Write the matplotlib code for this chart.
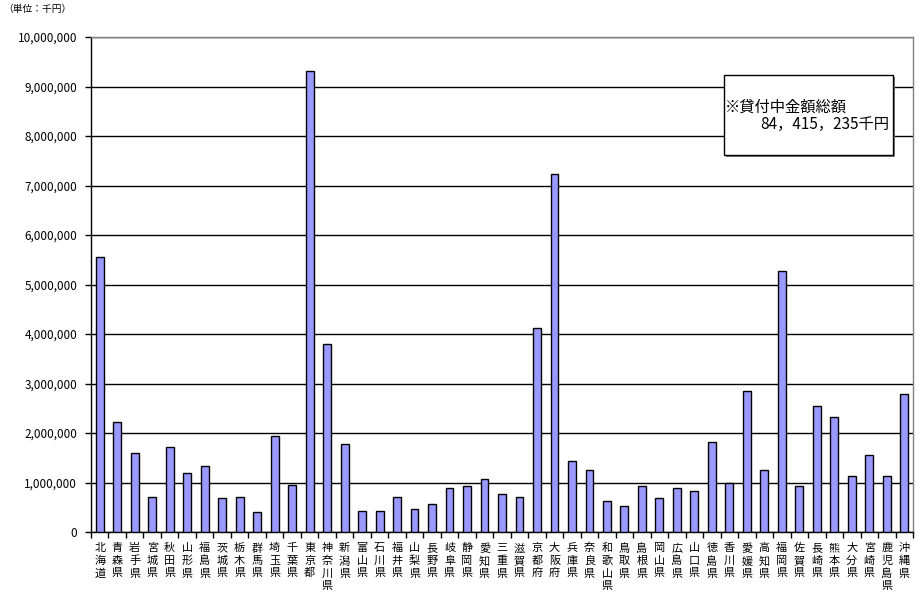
import matplotlib
matplotlib.use('Agg')
import matplotlib.pyplot as plt
import matplotlib.ticker as ticker
from matplotlib.patches import Rectangle
import numpy as np

plt.rcParams['font.family'] = ['Noto Sans CJK JP', 'DejaVu Sans']

# prefectures and outstanding loan amounts (thousand yen)
prefectures = ['北海道', '青森県', '岩手県', '宮城県', '秋田県', '山形県', '福島県',
               '茨城県', '栃木県', '群馬県', '埼玉県', '千葉県', '東京都', '神奈川県',
               '新潟県', '富山県', '石川県', '福井県', '山梨県', '長野県', '岐阜県',
               '静岡県', '愛知県', '三重県', '滋賀県', '京都府', '大阪府', '兵庫県',
               '奈良県', '和歌山県', '鳥取県', '島根県', '岡山県', '広島県', '山口県',
               '徳島県', '香川県', '愛媛県', '高知県', '福岡県', '佐賀県', '長崎県',
               '熊本県', '大分県', '宮崎県', '鹿児島県', '沖縄県']
amounts = [5550000, 2215000, 1590000, 700000, 1710000, 1186000, 1327000,
           680000, 700000, 400000, 1930000, 956000, 9310000, 3790000,
           1770000, 420000, 420000, 700000, 460000, 560000, 880000,
           920000, 1065000, 760000, 700000, 4115000, 7230000, 1430000,
           1246000, 620000, 520000, 920000, 680000, 880000, 820000,
           1810000, 980000, 2840000, 1246000, 5270000, 920000, 2540000,
           2320000, 1125000, 1550000, 1125000, 2780000]
unit_label = '（単位：千円）'
note_title = '※貸付中金額総額'
note_total = '84，415，235千円'

W, H = 918, 592
fig = plt.figure(figsize=(W / 100, H / 100), dpi=100)
left, right, top, bottom = 91, 913, 37, 532
ax = fig.add_axes([left / W, 1 - bottom / H, (right - left) / W, (bottom - top) / H])

x = np.arange(len(prefectures))
ax.bar(x, amounts, width=0.45, color='#9999FF', edgecolor='black', linewidth=1, zorder=3)

ax.set_xlim(-0.5, len(prefectures) - 0.5)
ax.set_ylim(0, 10000000)
ax.yaxis.set_major_locator(ticker.MultipleLocator(1000000))
ax.yaxis.set_major_formatter(ticker.FuncFormatter(lambda v, p: '{:,.0f}'.format(v)))
ax.grid(axis='y', color='black', linewidth=1, zorder=1)

ax.set_xticks(x)
ax.set_xticklabels(['\n'.join(p) for p in prefectures], fontsize=8, linespacing=1.3,
                   va='top')
ax.tick_params(axis='x', which='major', length=0, pad=8)
ax.set_xticks(np.arange(-0.5, len(prefectures), 1.0), minor=True)
ax.tick_params(axis='x', which='minor', length=4, direction='out', width=1)
ax.tick_params(axis='y', length=4, direction='out', width=1, labelsize=8.5, pad=6)

for s in ['left', 'bottom']:
    ax.spines[s].set_color('black')
    ax.spines[s].set_linewidth(1)
for s in ['top', 'right']:
    ax.spines[s].set_color('#808080')
    ax.spines[s].set_linewidth(1)

fig.text(3 / W, 1 - 9 / H, unit_label, fontsize=7, ha='left', va='center')

# note box
bx0, by0, bx1, by1 = 724, 75, 893, 155
fig.patches.append(Rectangle((bx0 / W + 2 / W, 1 - by1 / H - 2 / H), (bx1 - bx0) / W, (by1 - by0) / H,
                             transform=fig.transFigure, facecolor='#808080', edgecolor='none', zorder=4))
fig.patches.append(Rectangle((bx0 / W, 1 - by1 / H), (bx1 - bx0) / W, (by1 - by0) / H,
                             transform=fig.transFigure, facecolor='white', edgecolor='black',
                             linewidth=1, zorder=5))
fig.text(725 / W, 1 - 107 / H, note_title, fontsize=11, ha='left', va='center', zorder=6)
fig.text(889 / W, 1 - 124 / H, note_total, fontsize=11, ha='right', va='center', zorder=6)

fig.savefig('out.png', dpi=100)
